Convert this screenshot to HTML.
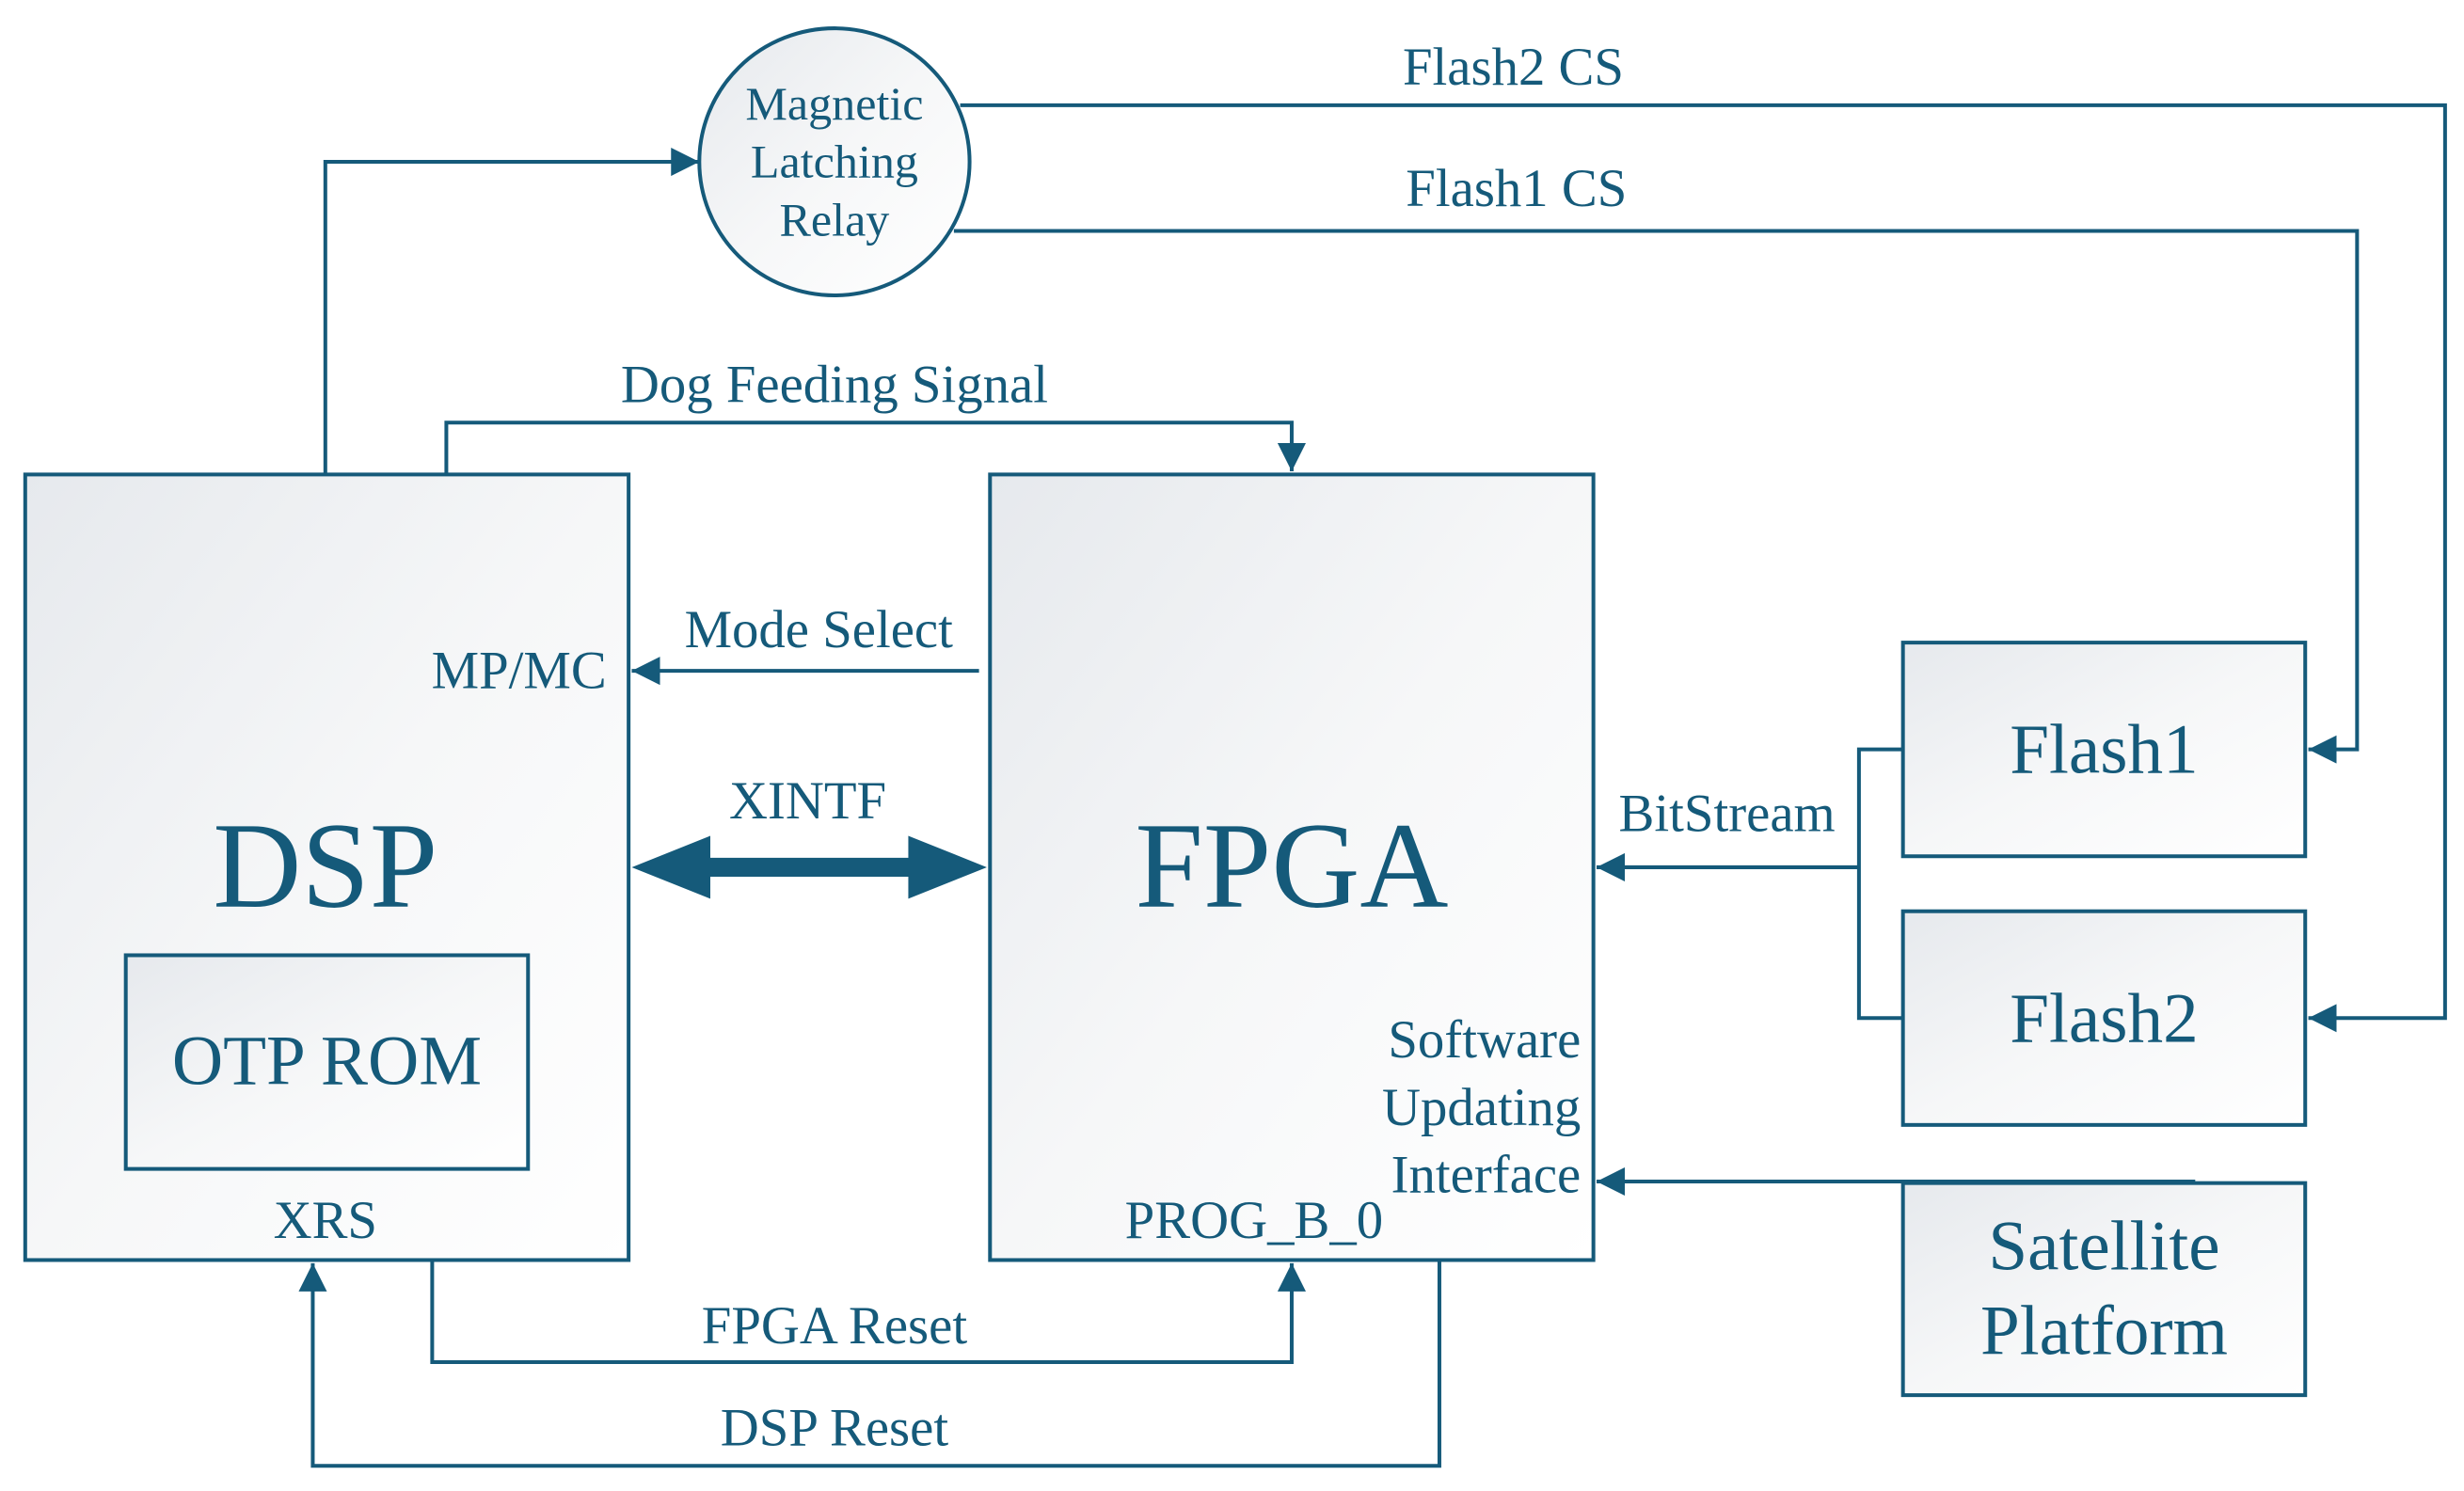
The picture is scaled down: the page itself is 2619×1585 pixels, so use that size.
<!DOCTYPE html>
<html><head><meta charset="utf-8"><style>html,body{margin:0;padding:0;background:#fff}svg{display:block}</style></head>
<body>
<svg width="2619" height="1585" viewBox="0 0 1568 949" xmlns="http://www.w3.org/2000/svg" font-family="Liberation Serif, serif" fill="#155a7a">
<defs>
<linearGradient id="g" x1="0" y1="0" x2="1" y2="1">
<stop offset="0" stop-color="#e6e9ed"/><stop offset="0.5" stop-color="#f6f7f8"/><stop offset="1" stop-color="#ffffff"/>
</linearGradient>
<marker id="b" viewBox="0 0 10 10" refX="10" refY="5" markerWidth="18" markerHeight="18" markerUnits="userSpaceOnUse" orient="auto"><path d="M0,0 L10,5 L0,10z" fill="#155a7a"/></marker>
</defs>
<g stroke="#155a7a" stroke-width="2.4" fill="url(#g)">
<ellipse cx="531" cy="103" rx="86" ry="85"/>
<rect x="16" y="302" width="384" height="500"/>
<rect x="80" y="608" width="256" height="136"/>
<rect x="630" y="302" width="384" height="500"/>
<rect x="1211" y="409" width="256" height="136"/>
<rect x="1211" y="580" width="256" height="136"/>
<rect x="1211" y="753" width="256" height="135"/>
</g>
<g stroke="#155a7a" stroke-width="2.4" fill="none">
<polyline points="207,302 207,103 445,103" marker-end="url(#b)"/>
<polyline points="284,302 284,269 822,269 822,300" marker-end="url(#b)"/>
<polyline points="611,67 1556,67 1556,648 1469,648" marker-end="url(#b)"/>
<polyline points="607,147 1500,147 1500,477 1469,477" marker-end="url(#b)"/>
<line x1="623" y1="427" x2="402" y2="427" marker-end="url(#b)"/>
<line x1="1183" y1="552" x2="1016" y2="552" marker-end="url(#b)"/>
<polyline points="1211,477 1183,477 1183,648 1211,648"/>
<line x1="1397" y1="752" x2="1016" y2="752" marker-end="url(#b)"/>
<polyline points="275,802 275,867 822,867 822,804" marker-end="url(#b)"/>
<polyline points="916,802 916,933 199,933 199,804" marker-end="url(#b)"/>
</g>
<path d="M402,552 L452,532 L452,546 L578,546 L578,532 L628,552 L578,572 L578,558 L452,558 L452,572 Z" fill="#155a7a"/>
<g font-size="30" text-anchor="middle">
<text x="531" y="76">Magnetic</text>
<text x="531" y="113">Latching</text>
<text x="531" y="150">Relay</text>
</g>
<g font-size="34" text-anchor="middle">
<text x="963" y="54">Flash2 CS</text>
<text x="965" y="131">Flash1 CS</text>
<text x="531" y="256">Dog Feeding Signal</text>
<text x="521" y="412">Mode Select</text>
<text x="514" y="521">XINTF</text>
<text x="207" y="788">XRS</text>
<text x="798" y="788">PROG_B_0</text>
<text x="1099" y="529">BitStream</text>
<text x="531" y="855">FPGA Reset</text>
<text x="531" y="920">DSP Reset</text>
</g>
<g font-size="34" text-anchor="end">
<text x="386" y="438">MP/MC</text>
<text x="1006" y="673">Software</text>
<text x="1006" y="716">Updating</text>
<text x="1006" y="759">Interface</text>
</g>
<g text-anchor="middle">
<text x="207" y="577" font-size="78">DSP</text>
<text x="822" y="577" font-size="78">FPGA</text>
<text x="208" y="690" font-size="45">OTP ROM</text>
<text x="1339" y="492" font-size="45">Flash1</text>
<text x="1339" y="663" font-size="45">Flash2</text>
<text x="1339" y="808" font-size="45">Satellite</text>
<text x="1339" y="862" font-size="45">Platform</text>
</g>
</svg>
</body></html>
